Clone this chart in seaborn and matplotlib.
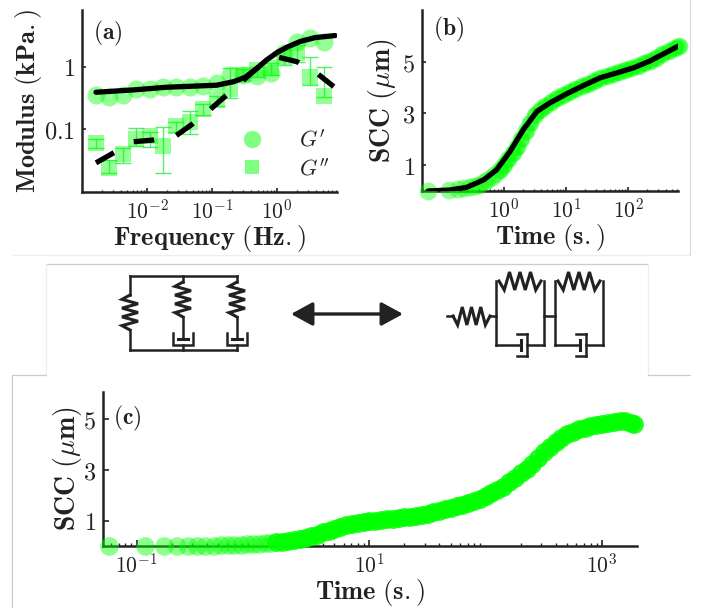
import numpy as np
import matplotlib
matplotlib.use("Agg")
import matplotlib.pyplot as plt
from matplotlib.ticker import FixedLocator, FixedFormatter, NullFormatter, NullLocator
from matplotlib.lines import Line2D
import seaborn as sns

sns.set_theme(style="white")
plt.rcParams["mathtext.fontset"] = "cm"

# panel a, modulus data
freq = [0.00164,0.00263,0.00427,0.00676,0.0110,0.0178,0.0282,0.0457,0.0724,0.117,0.191,0.302,0.490,0.794,1.26,2.04,3.24,5.25]
g1 = [0.353,0.332,0.353,0.436,0.436,0.469,0.469,0.469,0.492,0.543,0.737,0.737,0.71,0.80,1.64,2.51,2.84,2.51]
g2 = [0.0598,0.0238,0.0403,0.0692,0.0782,0.0547,0.113,0.132,0.209,0.294,0.436,0.737,0.885,0.943,1.445,1.64,0.692,0.340]
g2_hi = [0.0692,0.0323,0.0498,0.104,0.0916,0.1076,0.132,0.196,0.251,0.340,0.943,0.909,1.0,1.13,1.85,2.22,1.445,1.0]
g2_lo = [0.0508,0.020,0.0292,0.0547,0.0527,0.0198,0.0916,0.0841,0.169,0.236,0.313,0.613,0.692,0.737,1.06,1.20,0.51,0.33]
fit1_f = [0.00164,0.00617,0.02,0.117,0.214,0.324,0.49,0.69,0.99,1.41,2.24,3.8,7.76]
fit1 = [0.39,0.425,0.469,0.505,0.575,0.678,0.943,1.28,1.67,2.04,2.51,2.9,3.13]
fit2_f = [0.00164,0.00617,0.0126,0.0275,0.05,0.091,0.168,0.285,0.49,1.05,2.0,4.07,7.4]
fit2 = [0.0292,0.0634,0.0675,0.0782,0.122,0.203,0.353,0.575,0.943,1.41,1.2,0.785,0.48]

# panel b
t_b = [.06,.13,.18,.23,.28,.34,.40,.47,.54,.63,.72,.85,1.0,1.17,1.38,1.62,1.9,2.24,2.63,3.16,3.8,4.57,5.6,7.1,8.9,11.2,14.1,17.8,22.4,28.2,35.5,44.7,56.2,70.8,89,112,141,178,224,282,355,447,562,646]
scc_b = [0,.04,.07,.10,.14,.19,.25,.34,.43,.53,.65,.82,1.02,1.22,1.46,1.72,2.0,2.32,2.62,2.94,3.14,3.3,3.45,3.6,3.72,3.82,3.94,4.05,4.15,4.25,4.36,4.44,4.52,4.6,4.68,4.75,4.84,4.94,5.03,5.15,5.28,5.41,5.53,5.61]
fit_t = [.06,.135,.25,.47,.76,1.25,2.04,3.39,5.5,10.2,19,35.5,66,123,224,646]
fit_b = [0,.04,.14,.43,.82,1.53,2.37,3.08,3.41,3.76,4.08,4.38,4.57,4.77,5.03,5.61]

# panel c
t_c = [.0575,.117,.17,.224,.275,.331,.389,.457,.525,.603,.692,.794,.891,1.0,1.12,1.26,1.41,1.58,1.78,2.0,2.24,2.51,2.82,3.16,3.55,3.98,4.47,5.01,5.62,6.31,7.08,7.94,8.91,10,11.2,12.6,14.1,15.8,17.8,20,22.4,25.1,28.2,31.6,35.5,39.8,44.7,50.1,56.2,63.1,70.8,79.4,89.1,100,112,126,141,158,178,200,224,251,282,316,355,398,447,501,562,631,708,794,891,1000,1122,1259,1413,1585,1778,1862]
scc_c = [0,0,0,0,0,0,.01,.01,.02,.02,.03,.04,.06,.08,.09,.10,.12,.15,.17,.21,.25,.29,.33,.39,.45,.53,.60,.68,.75,.81,.86,.90,.93,.97,1.0,1.02,1.04,1.06,1.09,1.12,1.15,1.18,1.22,1.27,1.32,1.38,1.44,1.5,1.56,1.62,1.68,1.76,1.85,1.95,2.06,2.2,2.33,2.5,2.66,2.85,3.02,3.22,3.44,3.67,3.88,4.06,4.22,4.38,4.48,4.57,4.64,4.7,4.75,4.8,4.84,4.88,4.92,4.9,4.83,4.8]

GREEN = "#00ff00"
DARK = "#222222"
W, H = 704, 608

fig = plt.figure(figsize=(W / 100, H / 100), dpi=100)


def px_axes(left, top, right, bottom):
    return fig.add_axes([left / W, 1 - bottom / H, (right - left) / W, (bottom - top) / H])


def style(ax, xt, xl, major=3, minor=1.5):
    sns.despine(ax=ax)
    ax.set_facecolor("none")
    for s in ["left", "bottom"]:
        ax.spines[s].set_linewidth(1.8)
        ax.spines[s].set_color(DARK)
    ax.set_xscale("log")
    ax.xaxis.set_major_locator(FixedLocator(xt))
    ax.xaxis.set_major_formatter(FixedFormatter(xl))
    ax.xaxis.set_minor_formatter(NullFormatter())
    minors = [m * 10.0 ** e for e in range(-4, 5) for m in range(2, 10)]
    ax.xaxis.set_minor_locator(FixedLocator(minors))
    ax.tick_params(axis="both", which="major", direction="in", length=major, width=1.2, color=DARK,
                   labelcolor=DARK, pad=5, bottom=True, left=True)
    ax.tick_params(axis="x", which="major", labelsize=15.5)
    ax.tick_params(axis="y", which="major", labelsize=17.5)
    ax.tick_params(axis="x", which="minor", direction="in", length=minor, width=1, color=DARK, bottom=True)


# schematic and faint panel rules live on a full figure axes
bg = fig.add_axes([0, 0, 1, 1], zorder=-1)
bg.set_xlim(0, W)
bg.set_ylim(H, 0)
bg.axis("off")
for xs, ys, col in [([12, 690], [255, 255], "#eeeeee"), ([690, 690], [0, 255], "#dddddd"),
                    ([46, 648], [264, 264], "#cccccc"), ([648, 648], [264, 375], "#eeeeee"),
                    ([46, 46], [264, 375], "#eeeeee"), ([12, 46], [375, 375], "#cccccc"),
                    ([648, 690], [375, 375], "#cccccc"), ([12, 12], [375, 608], "#cccccc")]:
    bg.plot(xs, ys, color=col, lw=0.9)


def wire(xs, ys, lw=1.8):
    bg.plot(xs, ys, color=DARK, lw=lw, solid_capstyle="projecting", solid_joinstyle="miter")


def spring_v(x, y0, y1, amp=8, n=4):
    ys = np.linspace(y0, y1, 2 * n + 1)
    xs = [x] + [x + amp * (-1) ** i for i in range(1, 2 * n)] + [x]
    wire(xs, ys, 2.2)


def spring_h(x0, x1, y, amp=9, n=4):
    xs = np.linspace(x0, x1, 2 * n + 1)
    ys = [y] + [y + amp * (-1) ** (i + 1) for i in range(1, 2 * n)] + [y]
    wire(xs, ys, 2.2)


def damper_v(x, y_top, y_bot):
    wire([x, x], [y_top, y_bot - 11])
    wire([x - 5, x + 5], [y_bot - 11, y_bot - 11], 2.2)
    wire([x - 10, x - 10, x + 10, x + 10], [y_bot - 17, y_bot - 5, y_bot - 5, y_bot - 17])
    wire([x, x], [y_bot - 5, y_bot])


def damper_h(x0, x1, y, xm):
    wire([x0, xm], [y, y])
    wire([xm, xm], [y - 5, y + 5], 2.2)
    wire([xm + 6, xm + 6], [y - 11, y + 11])
    wire([xm - 4, xm + 6], [y - 11, y - 11])
    wire([xm - 4, xm + 6], [y + 11, y + 11])
    wire([xm + 6, x1], [y, y])


wire([130, 237], [275.5, 275.5])
wire([130, 237], [350, 350])
wire([130, 130], [275.5, 295])
spring_v(130, 295, 330)
wire([130, 130], [330, 350])
wire([183, 183], [275.5, 282])
spring_v(183, 282, 317)
damper_v(183, 317, 350)
wire([237, 237], [275.5, 282])
spring_v(237, 282, 317)
damper_v(237, 317, 350)
bg.annotate("", xy=(291, 314), xytext=(403, 314),
            arrowprops=dict(arrowstyle="<|-|>,head_length=1.1,head_width=0.6", color=DARK, lw=2.4, shrinkA=0, shrinkB=0))
wire([447, 453], [316, 316])
spring_h(453, 490, 316)
wire([490, 496], [316, 316])
for x0, x1 in [(496, 544), (555, 603)]:
    wire([x0, x0], [281, 345])
    wire([x1, x1], [281, 345])
    spring_h(x0 + 3, x1 - 3, 281)
    damper_h(x0, x1, 345, x0 + 25)
wire([544, 555], [316, 316])

# (a)
ax = px_axes(82, 10, 337, 192)
ax.set_yscale("log")
ax.errorbar(freq, g2, yerr=[np.array(g2) - np.array(g2_lo), np.array(g2_hi) - np.array(g2)], fmt="none",
            ecolor="#33f04d", elinewidth=1, capsize=6, capthick=1, zorder=3, alpha=0.85)
sns.scatterplot(x=freq, y=g1, ax=ax, color=GREEN, marker="o", s=170, alpha=0.42, linewidth=0, zorder=3, clip_on=False)
sns.scatterplot(x=freq, y=g2, ax=ax, color=GREEN, marker="s", s=140, alpha=0.42, linewidth=0, zorder=3, clip_on=False)
sns.lineplot(x=fit1_f, y=fit1, ax=ax, color="black", lw=3.8, errorbar=None, zorder=4)
dash = sns.lineplot(x=fit2_f, y=fit2, ax=ax, color="black", lw=3.8, errorbar=None, zorder=4).lines[-1]
dash.set_linestyle((0, (3.9, 4.3)))
dash.set_dash_capstyle("butt")
ax.set_xlim(1e-3, 8.3)
ax.set_ylim(0.01, 8)
style(ax, [1e-2, 1e-1, 1], [r"$\mathbf{10^{-2}}$", r"$\mathbf{10^{-1}}$", r"$\mathbf{10^{0}}$"])
ax.yaxis.set_major_locator(FixedLocator([0.1, 1]))
ax.yaxis.set_major_formatter(FixedFormatter([r"$\mathbf{0.1}$", r"$\mathbf{1}$"]))
ax.yaxis.set_minor_locator(NullLocator())
ax.set_xlabel(r"$\mathbf{Frequency\ (Hz.)}$", fontsize=19, color=DARK, labelpad=0)
ax.set_ylabel(r"$\mathbf{Modulus\ (kPa.)}$", fontsize=19, color=DARK, labelpad=0)
ax.text(0.042, 0.873, r"$(\mathbf{a})$", transform=ax.transAxes, fontsize=17, color=DARK, va="center")
handles = [Line2D([], [], color=GREEN, alpha=0.5, marker="o", ms=12.5, lw=0, mew=0),
           Line2D([], [], color=GREEN, alpha=0.5, marker="s", ms=10, lw=0, mew=0)]
ax.legend(handles, [r"$G'$", r"$G''$"], loc="lower left", bbox_to_anchor=(0.625, 0.07), frameon=False,
          fontsize=16, labelspacing=0.3, handletextpad=1.6, handlelength=1, labelcolor=DARK, borderpad=0, borderaxespad=0)

# (b)
ax = px_axes(422, 10, 678, 191)
sns.scatterplot(x=t_b, y=scc_b, ax=ax, color=GREEN, marker="o", s=165, alpha=0.42, linewidth=0, zorder=3, clip_on=False)
sns.scatterplot(x=t_b[11:], y=scc_b[11:], ax=ax, color=GREEN, marker="o", s=130, alpha=0.5, linewidth=0, zorder=3, clip_on=False)
sns.lineplot(x=fit_t, y=fit_b, ax=ax, color="black", lw=3.8, errorbar=None, zorder=4)
ax.set_xlim(10 ** -1.32, 10 ** 2.8)
ax.set_ylim(0, 7)
style(ax, [1, 10, 100], [r"$\mathbf{10^{0}}$", r"$\mathbf{10^{1}}$", r"$\mathbf{10^{2}}$"])
ax.yaxis.set_major_locator(FixedLocator([1, 3, 5]))
ax.yaxis.set_major_formatter(FixedFormatter([r"$\mathbf{1}$", r"$\mathbf{3}$", r"$\mathbf{5}$"]))
ax.set_xlabel(r"$\mathbf{Time\ (s.)}$", fontsize=19, color=DARK, labelpad=0)
ax.set_ylabel(r"$\mathbf{SCC\ (}\mu\mathbf{m)}$", fontsize=20, color=DARK, labelpad=2)
ax.text(0.043, 0.89, r"$(\mathbf{b})$", transform=ax.transAxes, fontsize=17, color=DARK, va="center")

# (c)
ax = px_axes(103, 392, 637, 546)
sns.scatterplot(x=t_c, y=scc_c, ax=ax, color=GREEN, marker="o", s=180, alpha=0.45, linewidth=0, zorder=3, clip_on=False)
sns.scatterplot(x=t_c[17:], y=scc_c[17:], ax=ax, color=GREEN, marker="o", s=180, alpha=0.75, linewidth=0, zorder=3, clip_on=False)
ax.set_xlim(10 ** -1.29, 10 ** 3.3)
ax.set_ylim(0, 6.04)
style(ax, [0.1, 10, 1000], [r"$\mathbf{10^{-1}}$", r"$\mathbf{10^{1}}$", r"$\mathbf{10^{3}}$"], major=4, minor=2.4)
ax.yaxis.set_major_locator(FixedLocator([1, 3, 5]))
ax.yaxis.set_major_formatter(FixedFormatter([r"$\mathbf{1}$", r"$\mathbf{3}$", r"$\mathbf{5}$"]))
ax.set_xlabel(r"$\mathbf{Time\ (s.)}$", fontsize=19, color=DARK, labelpad=0)
ax.set_ylabel(r"$\mathbf{SCC\ (}\mu\mathbf{m)}$", fontsize=20, color=DARK, labelpad=-1)
ax.text(0.018, 0.825, r"$(\mathbf{c})$", transform=ax.transAxes, fontsize=17, color=DARK, va="center")

fig.savefig("out.png", dpi=100)
